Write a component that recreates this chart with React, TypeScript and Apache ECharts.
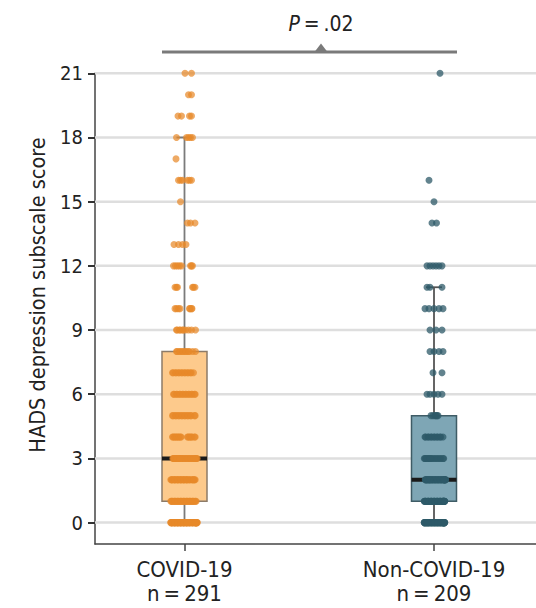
import React, { useEffect, useRef } from "react";
import * as echarts from "echarts";

// ---- data ----
const groups = ["COVID-19", "Non-COVID-19"];
const groupN = [291, 209];
const scores = [0, 1, 2, 3, 4, 5, 6, 7, 8, 9, 10, 11, 12, 13, 14, 15, 16, 17, 18, 19, 20, 21];
const covidCounts = [56, 35, 33, 30, 18, 16, 16, 15, 12, 10, 8, 6, 8, 4, 3, 1, 6, 1, 5, 4, 2, 2];
const nonCovidCounts = [50, 48, 42, 17, 13, 6, 5, 2, 4, 3, 5, 3, 6, 0, 2, 1, 1, 0, 0, 0, 0, 1];
// box stats: [min, q1, median, q3, max]
const covidBox = [0, 1, 3, 8, 18];
const nonCovidBox = [0, 1, 2, 5, 11];
const yTicks = [0, 3, 6, 9, 12, 15, 18, 21];
const pLabel = ".02";

// ---- layout (jitter anchors in px, per score level) ----
const covidJitter: number[][] = [
  [-13, -10, -7, -4, -1, 2, 5, 8, 11, 12],
  [-13, -10, -7, -4, -1, 2, 5, 8, 11],
  [-13, -10, -7, -4, -1, 2, 5, 8, 10],
  [-11, -8, -5, -2, 1, 4, 7, 10, 12],
  [-12, -10, -8, -6, -4, 3, 5, 7, 10],
  [-12, -9, -6, -3, 0, 3, 6, 10],
  [-11, -8, -5, -2, 1, 4, 7, 10],
  [-12, -9, -6, -3, 0, 3, 6, 9],
  [-8, -5, -2, 1, 4, 8, 11],
  [-8, -5, -2, 1, 4, 7, 11],
  [-9.5, -8, -6, -4.5, 5, 5.5, 7, 7.5],
  [-9.5, -8, -7, 8, 9, 10.5],
  [-11, -9, -7, -5, -3, 6, 7, 8],
  [-10.5, -6, -2, 1.5],
  [3, 6, 10.5],
  [-4],
  [-6, -4, -2, 3, 5, 7],
  [-8.5],
  [-8, 2, 4, 6, 8],
  [-6.5, -3, 5, 7],
  [4, 7],
  [0.5, 7],
];
const nonCovidJitter: number[][] = [
  [-9, -6, -3, 0, 3, 6, 9, 10],
  [-9, -6, -3, 0, 3, 6, 9, 10],
  [-8, -5, -2, 1, 4, 7, 10, 11],
  [-9, -6, -3, 0, 3, 6, 9],
  [-9, -6, -3, 0, 3, 6, 9],
  [-3, -1, 1, 2, 3, 4],
  [-7, -4, 0, 4, 8],
  [-1, 8],
  [-4, 0, 5, 9],
  [-4, 2, 8],
  [-9, -5, 0, 5, 9],
  [-7, -4, 8],
  [-7, -4, -1, 2, 5, 8],
  [0],
  [-2, 2.5],
  [0],
  [-5],
  [0],
  [0],
  [0],
  [0],
  [6],
];

const X_MIN = 0.6413;
const X_MAX = 2.4088;
const PX_PER_UNIT = 249.5;
const centers = [1, 2];
const BOX_HALF = 22.5 / PX_PER_UNIT;
const CAP_HALF = 8 / PX_PER_UNIT;
const FONT = "'DejaVu Sans Condensed', 'DejaVu Sans', sans-serif";
const TS = "\u2009"; // thin space

function buildPoints(center: number, counts: number[], jitter: number[][]) {
  const pts: number[][] = [];
  scores.forEach((s, i) => {
    const n = counts[i];
    const a = jitter[i];
    for (let k = 0; k < n; k++) {
      const round = Math.floor(k / a.length);
      const shift = round === 0 ? 0 : (round % 2 === 1 ? 0.7 : -0.7);
      pts.push([center + (a[k % a.length] + shift) / PX_PER_UNIT, s]);
    }
  });
  return pts;
}

export default function App() {
  const ref = useRef<HTMLDivElement>(null);
  useEffect(() => {
    if (!ref.current) return;
    const chart = echarts.init(ref.current, undefined, { renderer: "svg" });
    const covidPts = buildPoints(centers[0], covidCounts, covidJitter);
    const nonPts = buildPoints(centers[1], nonCovidCounts, nonCovidJitter);
    const boxStyles = [
      { fill: "#FDCA8C", stroke: "#8C7B69", whisker: "#7b7b7b" },
      { fill: "#7EA6B5", stroke: "#3F5C66", whisker: "#555555" },
    ];
    const option: any = {
      animation: false,
      grid: { left: 95, right: 0, top: 73.3, bottom: 64 },
      xAxis: {
        type: "value",
        min: X_MIN,
        max: X_MAX,
        splitLine: { show: false },
        axisLine: { show: true, onZero: false, lineStyle: { color: "#444", width: 1.5 } },
        axisTick: { show: true, customValues: centers, length: 7, lineStyle: { color: "#444", width: 1.5 } },
        axisLabel: {
          customValues: centers,
          formatter: (v: number) => {
            const i = Math.round(v) - 1;
            return groups[i] + "\n" + "n" + TS + "=" + TS + groupN[i];
          },
          fontFamily: FONT,
          fontSize: 22,
          lineHeight: 24,
          color: "#222",
          margin: 13,
        },
      },
      yAxis: {
        type: "value",
        min: -1,
        max: 21,
        splitLine: { show: false },
        axisLine: { show: true, onZero: false, lineStyle: { color: "#444", width: 1.5 } },
        axisTick: { show: true, customValues: yTicks, length: 7, lineStyle: { color: "#333", width: 2 } },
        axisLabel: {
          customValues: yTicks,
          formatter: (v: number) => String(v),
          fontFamily: FONT,
          fontSize: 20,
          color: "#222",
          margin: 12,
        },
      },
      graphic: [
        {
          type: "text",
          x: 37,
          y: 295,
          rotation: Math.PI / 2,
          style: {
            text: "HADS depression subscale score",
            fontFamily: FONT,
            fontSize: 21.5,
            fill: "#222",
            align: "center",
            verticalAlign: "middle",
          },
        },
        {
          type: "line",
          shape: { x1: 162, y1: 52, x2: 457, y2: 52 },
          style: { stroke: "#7a7a7a", lineWidth: 3 },
        },
        {
          type: "polygon",
          shape: { points: [[314.5, 52], [321, 43.5], [327.5, 52]] },
          style: { fill: "#7a7a7a" },
        },
        {
          type: "text",
          x: 321,
          y: 24,
          style: {
            text: "{i|P}" + TS + "=" + TS + pLabel,
            rich: { i: { fontStyle: "italic", fontFamily: FONT, fontSize: 21, fill: "#222" } },
            fontFamily: FONT,
            fontSize: 21,
            fill: "#222",
            align: "center",
            verticalAlign: "middle",
          },
        },
      ],
      series: [
        {
          type: "custom",
          z: 1,
          silent: true,
          clip: false,
          data: yTicks.map((v) => [1, v]),
          renderItem: (params: any, api: any) => {
            const v = api.value(1);
            const p1 = api.coord([X_MIN, v]);
            const p2 = api.coord([X_MAX, v]);
            return {
              type: "line",
              shape: { x1: p1[0], y1: p1[1], x2: p2[0], y2: p2[1] },
              style: { stroke: "#dedede", lineWidth: 2.5 },
            };
          },
        },
        {
          type: "custom",
          z: 2,
          silent: true,
          clip: false,
          data: [
            [centers[0], ...covidBox],
            [centers[1], ...nonCovidBox],
          ],
          renderItem: (params: any, api: any) => {
            const x = api.value(0);
            const mn = api.value(1), q1 = api.value(2), md = api.value(3), q3 = api.value(4), mx = api.value(5);
            const st = boxStyles[params.dataIndex];
            const top = api.coord([x, mx]);
            const bot = api.coord([x, mn]);
            const capL = api.coord([x - CAP_HALF, mx])[0];
            const capR = api.coord([x + CAP_HALF, mx])[0];
            const tl = api.coord([x - BOX_HALF, q3]);
            const br = api.coord([x + BOX_HALF, q1]);
            const medL = api.coord([x - BOX_HALF, md]);
            const medR = api.coord([x + BOX_HALF, md]);
            return {
              type: "group",
              children: [
                { type: "line", shape: { x1: top[0], y1: top[1], x2: bot[0], y2: bot[1] }, style: { stroke: st.whisker, lineWidth: 1.8 } },
                { type: "line", shape: { x1: capL, y1: top[1], x2: capR, y2: top[1] }, style: { stroke: st.whisker, lineWidth: 1.8 } },
                { type: "line", shape: { x1: capL, y1: bot[1], x2: capR, y2: bot[1] }, style: { stroke: st.whisker, lineWidth: 1.8 } },
                {
                  type: "rect",
                  shape: { x: tl[0], y: tl[1], width: br[0] - tl[0], height: br[1] - tl[1] },
                  style: { fill: st.fill, stroke: st.stroke, lineWidth: 1.5 },
                },
                { type: "line", shape: { x1: medL[0], y1: medL[1], x2: medR[0], y2: medR[1] }, style: { stroke: "#1a1a1a", lineWidth: 4 } },
              ],
            };
          },
        },
        {
          type: "scatter",
          z: 3,
          silent: true,
          symbolSize: 7,
          data: covidPts,
          itemStyle: { color: "#E8892A", opacity: 0.72 },
        },
        {
          type: "scatter",
          z: 3,
          silent: true,
          symbolSize: 7,
          data: nonPts,
          itemStyle: { color: "#2E5A68", opacity: 0.75 },
        },
      ],
    };
    chart.setOption(option);
    return () => chart.dispose();
  }, []);
  return (
    <div
      ref={ref}
      style={{ position: "fixed", left: 0, top: 0, width: 536, height: 608, background: "#fff" }}
    />
  );
}
